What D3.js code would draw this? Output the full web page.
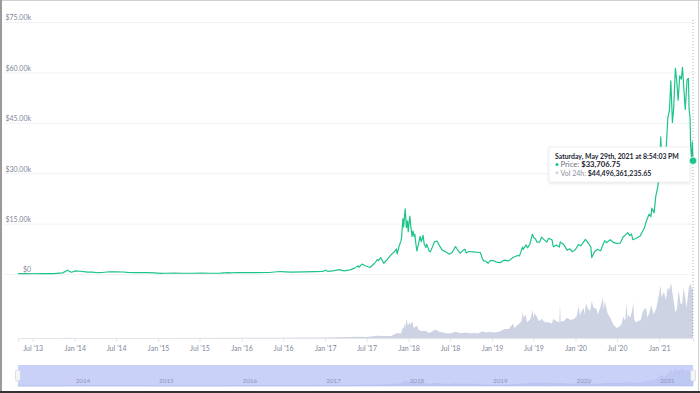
<!DOCTYPE html>
<html><head><meta charset="utf-8">
<script src="https://cdn.jsdelivr.net/npm/d3@7/dist/d3.min.js"></script>
<style>
html,body{margin:0;padding:0;background:#fff;}
svg{display:block;font-family:Lato, "DejaVu Sans", sans-serif;}
</style></head>
<body><svg id="c" width="700" height="393"></svg>
<script>
// ---- data ----
const priceSeries = [
["2013-04-28",135],["2013-06-01",122],["2013-07-06",70],["2013-08-15",110],["2013-10-01",125],["2013-11-10",330],["2013-11-30",1130],["2013-12-08",790],["2013-12-18",520],
["2014-01-05",930],["2014-01-25",820],["2014-02-10",680],["2014-02-25",540],["2014-03-20",580],["2014-04-10",380],["2014-05-01",450],["2014-06-03",670],["2014-07-01",640],["2014-08-01",590],["2014-08-19",460],["2014-09-22",400],["2014-10-15",390],["2014-11-15",400],["2014-12-15",350],
["2015-01-14",180],["2015-02-01",220],["2015-03-10",290],["2015-04-15",225],["2015-06-01",225],["2015-07-12",300],["2015-08-20",230],["2015-10-01",238],["2015-11-04",400],["2015-11-12",330],["2015-12-15",450],
["2016-01-15",380],["2016-03-01",430],["2016-05-01",450],["2016-06-17",750],["2016-07-10",650],["2016-08-02",550],["2016-10-01",610],["2016-11-15",710],["2016-12-20",800],
["2017-01-04",1130],["2017-01-11",780],["2017-02-10",990],["2017-03-03",1280],["2017-03-24",930],["2017-04-20",1230],["2017-05-10",1750],["2017-05-25",2450],["2017-05-28",2000],["2017-06-11",2950],["2017-06-25",2450],["2017-07-16",1930],["2017-08-05",3200],["2017-08-17",4300],["2017-08-22",4000],["2017-09-01",4900],["2017-09-14",3200],["2017-09-30",4350],["2017-10-12",5400],["2017-10-20",5980],["2017-11-01",6700],["2017-11-08",7450],["2017-11-12",5950],["2017-11-20",8200],["2017-11-29",10000],["2017-12-01",10900],["2017-12-07",16500],["2017-12-10",14000],["2017-12-17",19400],["2017-12-22",13800],["2017-12-27",15800],["2017-12-30",12600],
["2018-01-06",17200],["2018-01-10",14500],["2018-01-16",11200],["2018-01-20",12800],["2018-01-25",11200],["2018-01-28",11800],["2018-02-02",8800],["2018-02-06",6900],["2018-02-12",8600],["2018-02-20",11200],["2018-02-25",9600],["2018-03-05",11500],["2018-03-10",8900],["2018-03-18",7900],["2018-03-21",8900],["2018-04-01",6800],["2018-04-06",6600],["2018-04-15",8000],["2018-04-24",9600],["2018-05-05",9800],["2018-05-15",8500],["2018-05-28",7100],["2018-06-12",6600],["2018-06-28",5900],["2018-07-10",6400],["2018-07-25",8200],["2018-08-05",7000],["2018-08-14",6200],["2018-08-28",7100],["2018-09-04",7400],["2018-09-10",6250],["2018-09-22",6700],["2018-10-10",6600],["2018-10-20",6500],["2018-11-10",6400],["2018-11-15",5600],["2018-11-20",4450],["2018-11-25",3900],["2018-12-05",3800],["2018-12-15",3200],["2018-12-24",4000],
["2019-01-06",4000],["2019-01-20",3550],["2019-02-07",3400],["2019-02-24",4150],["2019-03-15",3900],["2019-04-02",4900],["2019-04-23",5500],["2019-05-01",5400],["2019-05-14",8000],["2019-05-17",7350],["2019-05-30",8650],["2019-06-05",7800],["2019-06-15",8800],["2019-06-26",11800],["2019-07-03",10800],["2019-07-10",10500],["2019-07-16",9500],["2019-07-28",9500],["2019-08-06",11000],["2019-08-15",10300],["2019-08-29",9500],["2019-09-05",10600],["2019-09-20",10200],["2019-09-26",8100],["2019-10-10",8600],["2019-10-22",8000],["2019-10-26",9500],["2019-11-10",8800],["2019-11-25",7100],["2019-12-08",7500],["2019-12-17",6650],["2019-12-31",7200],
["2020-01-14",8800],["2020-01-25",8400],["2020-02-13",10300],["2020-02-25",9300],["2020-03-08",8000],["2020-03-12",4900],["2020-03-25",6700],["2020-04-06",7300],["2020-04-20",6900],["2020-04-30",8700],["2020-05-08",9900],["2020-05-15",9300],["2020-06-01",10200],["2020-06-15",9400],["2020-06-27",9100],["2020-07-15",9200],["2020-07-27",11000],["2020-08-17",12300],["2020-08-25",11400],["2020-09-02",11900],["2020-09-08",10200],["2020-09-25",10700],["2020-10-10",11300],["2020-10-21",12800],["2020-10-28",13600],["2020-11-05",15600],["2020-11-18",17800],["2020-11-26",17100],["2020-11-30",19600],["2020-12-10",18200],["2020-12-17",23100],["2020-12-27",26300],
["2021-01-03",32800],["2021-01-08",40800],["2021-01-12",33900],["2021-01-15",36700],["2021-01-22",30800],["2021-01-29",34300],["2021-02-08",46500],["2021-02-15",48700],["2021-02-21",57500],["2021-02-28",45100],["2021-03-05",48900],["2021-03-13",61200],["2021-03-18",58200],["2021-03-25",51700],["2021-04-01",59000],["2021-04-08",58000],["2021-04-13",61500],["2021-04-18",56200],["2021-04-25",49000],["2021-05-03",57800],["2021-05-09",58200],["2021-05-12",49000],["2021-05-16",46500],["2021-05-19",37000],["2021-05-23",34700],["2021-05-26",39300],["2021-05-29",33706.75]
];
// 24h volume, billions USD
const volumeSeries = [
["2013-04-28",0],["2013-11-01",0.1],["2013-12-05",0.2],["2014-02-01",0.1],["2015-01-15",0.1],["2016-06-15",0.2],["2017-01-05",0.4],["2017-05-25",1.2],["2017-07-01",1.0],["2017-08-15",2.0],["2017-09-15",1.8],["2017-10-15",1.8],["2017-11-12",4.5],["2017-11-28",4.0],["2017-12-08",10],["2017-12-12",8],["2017-12-15",13],["2017-12-18",10],["2017-12-22",17],["2017-12-29",11],
["2018-01-05",14],["2018-01-10",12],["2018-01-17",15],["2018-01-24",9],["2018-02-06",11],["2018-02-15",7],["2018-03-01",6],["2018-03-15",6.5],["2018-04-01",4.5],["2018-04-15",6],["2018-04-28",7.5],["2018-05-15",5.5],["2018-06-01",5],["2018-06-20",4],["2018-07-05",4.2],["2018-07-25",5.5],["2018-08-15",4.2],["2018-09-05",4.8],["2018-09-25",4.2],["2018-10-15",4.5],["2018-11-01",4],["2018-11-20",6],["2018-12-05",5],["2018-12-20",5.5],
["2019-01-10",5],["2019-02-01",5.5],["2019-02-24",8],["2019-03-15",8],["2019-04-03",13],["2019-04-08",9],["2019-04-12",9.5],["2019-04-25",12],["2019-05-10",15],["2019-05-15",23],["2019-05-20",18],["2019-05-28",21],["2019-06-03",14],["2019-06-08",15],["2019-06-18",17],["2019-06-27",25],["2019-07-01",18],["2019-07-05",22],["2019-07-16",19],["2019-07-25",15],["2019-08-06",17],["2019-08-20",14],["2019-09-05",14],["2019-09-20",13],["2019-09-25",17],["2019-10-10",15],["2019-10-22",14],["2019-10-25",30],["2019-10-28",15],["2019-11-10",15],["2019-11-25",18],["2019-12-10",16],["2019-12-24",17],
["2020-01-05",19],["2020-01-15",28],["2020-01-20",20],["2020-01-25",23],["2020-02-05",27],["2020-02-10",21],["2020-02-15",31],["2020-02-25",26],["2020-03-05",24],["2020-03-12",33],["2020-03-20",27],["2020-04-01",26],["2020-04-08",21],["2020-04-15",25],["2020-04-30",36],["2020-05-03",25],["2020-05-08",33],["2020-05-20",22],["2020-06-01",18],["2020-06-15",12],["2020-06-28",9],["2020-07-10",10],["2020-07-20",12],["2020-07-28",19],["2020-08-05",15],["2020-08-12",32],["2020-08-15",16],["2020-08-18",21],["2020-08-28",18],["2020-09-05",25],["2020-09-10",32],["2020-09-13",18],["2020-09-18",14],["2020-10-01",15],["2020-10-12",16],["2020-10-22",24],["2020-11-05",27],["2020-11-10",18],["2020-11-18",22],["2020-11-27",29],["2020-12-08",21],["2020-12-20",27],
["2021-01-03",42],["2021-01-08",47],["2021-01-11",36],["2021-01-15",38],["2021-01-22",41],["2021-01-30",34],["2021-02-08",45],["2021-02-15",43],["2021-02-22",49],["2021-02-28",40],["2021-03-06",32],["2021-03-13",23],["2021-03-20",26],["2021-03-27",43],["2021-04-05",30],["2021-04-12",31],["2021-04-18",45],["2021-04-24",37],["2021-05-01",27],["2021-05-08",40],["2021-05-12",46],["2021-05-19",48],["2021-05-24",43],["2021-05-29",44.5]
];
const priceTicks = [0, 15000, 30000, 45000, 60000, 75000];
const tooltipTitle = "Saturday, May 29th, 2021 at 8:54:03 PM";
const tooltipPriceLabel = "Price: ";
const tooltipPriceValue = "$33,706.75";
const tooltipVolLabel = "Vol 24h: ";
const tooltipVolValue = "$44,496,361,235.65";

// ---- drawing ----
const parse = d3.timeParse("%Y-%m-%d");
const prices = priceSeries.map(d => ({date: parse(d[0]), v: d[1]}));
const vols = volumeSeries.map(d => ({date: parse(d[0]), v: d[1]}));
const svg = d3.select("#c");
const W = 700, H = 393;
const green = "#1dc487";
const axisColor = "#808799";
const FONT = "Lato, sans-serif";

const x = d3.scaleTime().domain([parse("2013-04-28"), parse("2021-05-29")]).range([18, 693]);
const y = d3.scaleLinear().domain([0, 75000]).range([274, 22]);
const yVol = d3.scaleLinear().domain([0, 65]).range([338, 265]);

svg.append("rect").attr("x",0).attr("y",0).attr("width",W).attr("height",H).attr("fill","#fff");

// gridlines
const grid = svg.append("g").attr("transform","translate(4,0)")
  .call(d3.axisRight(y).tickValues(priceTicks).tickSize(W-8).tickFormat(""));
grid.select(".domain").remove();
grid.selectAll(".tick line").attr("stroke","#f1f2f5").attr("stroke-width",1);

// y labels
const yAx = svg.append("g").attr("transform","translate(31,0)")
  .call(d3.axisLeft(y).tickValues(priceTicks).tickSize(0).tickPadding(0)
    .tickFormat(d => d === 0 ? "$0" : "$" + d3.format(".2f")(d/1000) + "k"));
yAx.select(".domain").remove();
yAx.selectAll("text").attr("dy","-0.3em").attr("fill",axisColor)
  .style("font-size","7px").style("font-family",FONT);

// volume area
svg.append("path").datum(vols)
  .attr("fill","#cdd3e2")
  .attr("d", d3.area().x(d => x(d.date)).y0(yVol(0)).y1(d => yVol(d.v)));

// x axis
const xAx = svg.append("g").attr("transform","translate(0,338)")
  .call(d3.axisBottom(x).ticks(d3.timeMonth.every(6)).tickSize(4).tickPadding(4)
    .tickFormat(d3.timeFormat("%b '%y")));
xAx.select(".domain").attr("stroke","#e3e5ea");
xAx.selectAll(".tick line").attr("stroke","#e3e5ea");
xAx.selectAll("text").attr("fill",axisColor).style("font-size","7px").style("font-family",FONT);

// price line
svg.append("path").datum(prices)
  .attr("fill","none").attr("stroke",green).attr("stroke-width",1.2).attr("stroke-linejoin","round")
  .attr("d", d3.line().x(d => x(d.date)).y(d => y(d.v)));

// navigator
const navTop = 365, navBot = 386;
svg.append("rect").attr("x",x.range()[0]).attr("y",navTop)
  .attr("width",x.range()[1]-x.range()[0]).attr("height",navBot-navTop).attr("fill","#c9d1f8");
const yNav = d3.scaleLinear().domain([0, 75000]).range([navBot, navTop+1]);
svg.append("path").datum(prices)
  .attr("fill","#bfc8f3").attr("stroke","#b3bdf0").attr("stroke-width",0.6)
  .attr("d", d3.area().x(d => x(d.date)).y0(navBot).y1(d => yNav(d.v)));
const navYears = x.ticks(d3.timeYear.every(1));
svg.append("g").selectAll("text").data(navYears).join("text")
  .attr("x", d => x(d) + 1).attr("y", 383)
  .attr("fill","#8c96bb").style("font-size","6.3px").style("font-family",FONT)
  .text(d3.timeFormat("%Y"));
[x.range()[0], x.range()[1]].forEach(hx => {
  svg.append("rect").attr("x",hx-2.5).attr("y",370).attr("width",5).attr("height",11).attr("rx",1.5)
    .attr("fill","#f4f5f8").attr("stroke","#c8ccd6").attr("stroke-width",0.6);
});

// crosshair
const last = prices[prices.length-1];
svg.append("line").attr("x1",x(last.date)).attr("x2",x(last.date)).attr("y1",20).attr("y2",338)
  .attr("stroke","#9aa0ad").attr("stroke-width",0.8).attr("stroke-dasharray","1,2");

// tooltip
const defs = svg.append("defs");
const f = defs.append("filter").attr("id","sh").attr("x","-10%").attr("y","-20%").attr("width","120%").attr("height","150%");
f.append("feDropShadow").attr("dx",0).attr("dy",1).attr("stdDeviation",1.5).attr("flood-color","#000").attr("flood-opacity",0.12);
const tt = svg.append("g").attr("transform","translate(549,147)");
tt.append("rect").attr("width",141).attr("height",35).attr("fill","#fff").attr("stroke","#e4e6eb").attr("stroke-width",0.6).attr("filter","url(#sh)");
function fit(sel, target) {
  const w = sel.node().getComputedTextLength();
  const fs = parseFloat(sel.style("font-size"));
  if (w > 0) sel.style("font-size", (fs * target / w).toFixed(2) + "px");
}
const t1 = tt.append("text").attr("x",6).attr("y",12).attr("fill","#222531").style("font-size","7px").style("font-weight","700").style("font-family",FONT).text(tooltipTitle);
fit(t1, 124);
tt.append("circle").attr("cx",8).attr("cy",17.5).attr("r",1.5).attr("fill",green);
const t2 = tt.append("text").attr("x",11.5).attr("y",20.3).style("font-size","7px").style("font-family",FONT);
t2.append("tspan").attr("fill","#6b7280").text(tooltipPriceLabel);
t2.append("tspan").attr("fill","#222531").style("font-weight","700").text(tooltipPriceValue);
fit(t2, 60);
tt.append("circle").attr("cx",8).attr("cy",25.8).attr("r",1.5).attr("fill","#cdd3e2");
const t3 = tt.append("text").attr("x",11.5).attr("y",28.6).style("font-size","7px").style("font-family",FONT);
t3.append("tspan").attr("fill","#8a90a0").text(tooltipVolLabel);
t3.append("tspan").attr("fill","#222531").style("font-weight","700").text(tooltipVolValue);
fit(t3, 91);

// marker
svg.append("circle").attr("cx",x(last.date)).attr("cy",y(last.v)).attr("r",3.8)
  .attr("fill",green).attr("stroke","#fff").attr("stroke-width",0.8);

// screenshot frame
svg.append("line").attr("x1",0).attr("x2",W).attr("y1",0.5).attr("y2",0.5).attr("stroke","#d0d0d0");
svg.append("line").attr("x1",1).attr("x2",1).attr("y1",0).attr("y2",H).attr("stroke","#9a9a9a").attr("stroke-width",2);
svg.append("line").attr("x1",698.5).attr("x2",698.5).attr("y1",0).attr("y2",H).attr("stroke","#d0d0d0");
svg.append("line").attr("x1",0).attr("x2",W).attr("y1",392).attr("y2",392).attr("stroke","#333").attr("stroke-width",2);
</script></body></html>
